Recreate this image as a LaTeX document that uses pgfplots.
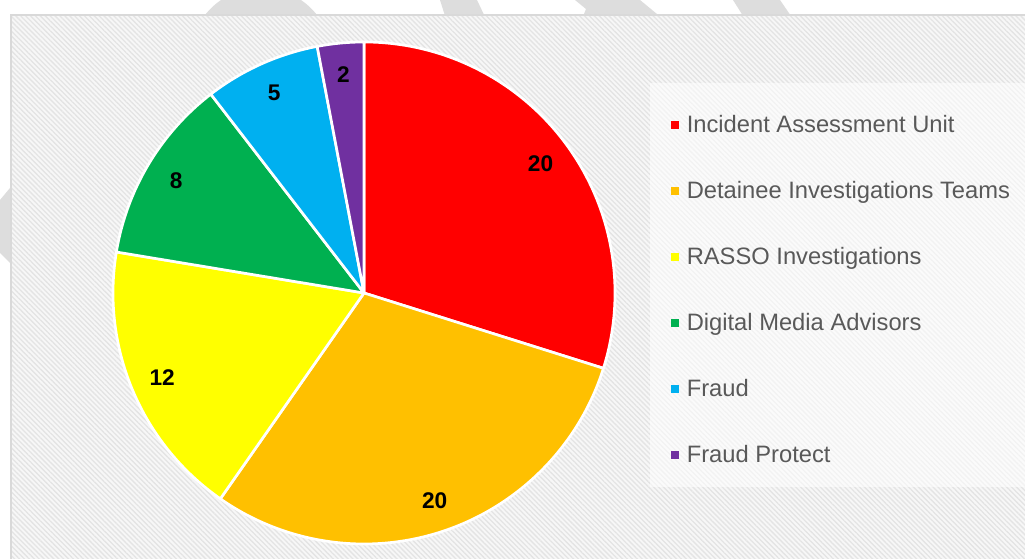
\documentclass[border=0pt]{standalone}
\usepackage{pgfplots}
\pgfplotsset{compat=1.18}
\usepackage{pgfplotstable}
\usepackage{fontspec}
\setmainfont{Liberation Sans}
\usetikzlibrary{patterns.meta}
\definecolor{c0}{HTML}{FF0000}
\definecolor{c1}{HTML}{FFC000}
\definecolor{c2}{HTML}{FFFF00}
\definecolor{c3}{HTML}{00B050}
\definecolor{c4}{HTML}{00B0F0}
\definecolor{c5}{HTML}{7030A0}
\definecolor{legtext}{HTML}{595959}
\definecolor{framec}{HTML}{D9D9D9}
\definecolor{wm}{HTML}{DDDDDD}
\definecolor{bgbase}{HTML}{F7F7F7}
\definecolor{bgline}{HTML}{E4E4E4}

\pgfplotstableread[col sep=comma]{
name,value
Incident Assessment Unit,20
Detainee Investigations Teams,20
RASSO Investigations,12
Digital Media Advisors,8
Fraud,5
Fraud Protect,2
}\piedata

\begin{document}
\begin{tikzpicture}
\gdef\total{0}
\pgfplotsforeachungrouped \i in {0,...,5}{%
  \pgfplotstablegetelem{\i}{value}\of\piedata
  \pgfmathsetmacro{\tmp}{\total+\pgfplotsretval}%
  \xdef\total{\tmp}%
}
\gdef\cum{0}
\pgfplotsforeachungrouped \i in {0,...,5}{%
  \pgfplotstablegetelem{\i}{value}\of\piedata
  \edef\v{\pgfplotsretval}%
  \pgfmathsetmacro{\sa}{90-\cum/\total*360}%
  \pgfmathsetmacro{\tmp}{\cum+\v}%
  \xdef\cum{\tmp}%
  \pgfmathsetmacro{\ea}{90-\cum/\total*360}%
  \pgfmathsetmacro{\ma}{(\sa+\ea)/2}%
  \expandafter\xdef\csname ps\i\endcsname{\sa}%
  \expandafter\xdef\csname pe\i\endcsname{\ea}%
  \expandafter\xdef\csname pm\i\endcsname{\ma}%
  \expandafter\xdef\csname pv\i\endcsname{\v}%
  \pgfplotstablegetelem{\i}{name}\of\piedata
  \expandafter\xdef\csname pn\i\endcsname{\pgfplotsretval}%
}
\begin{axis}[width=768.75pt,height=419.25pt,scale only axis,
  xmin=0,xmax=1025,ymin=0,ymax=559,hide axis,clip=false]
\coordinate (bbSW) at (axis cs:0,0);
\coordinate (bbNE) at (axis cs:1025,559);
\fill[white] (axis cs:0,0) rectangle (axis cs:1025,559);
\begin{scope}
\clip (axis cs:0,0) rectangle (axis cs:1025,559);
\fill[wm] (axis cs:261,500.3) circle[radius=53.25pt];
\fill[wm] (axis cs:440,559) -- (axis cs:477,559) -- (axis cs:486,540) -- (axis cs:446,540) -- cycle;
\fill[wm] (axis cs:575,559) -- (axis cs:640,559) -- (axis cs:663,540) -- (axis cs:582,540) -- (axis cs:586,550) -- cycle;
\fill[wm] (axis cs:733,559) -- (axis cs:780,559) -- (axis cs:793,540) -- (axis cs:745,540) -- cycle;
\fill[wm] (axis cs:0,359) -- (axis cs:10,371) -- (axis cs:10,296) -- (axis cs:0,306) -- cycle;
\end{scope}
\fill[bgbase] (axis cs:10,0) rectangle (axis cs:1025,544);
\fill[pattern={Lines[angle=-45,distance=2.6pt,line width=1.0pt]},pattern color=bgline] (axis cs:10,0) rectangle (axis cs:1025,544);
\fill[white,opacity=0.55] (axis cs:650,72) rectangle (axis cs:1025,476);
\draw[framec,line width=1.5pt] (axis cs:10.5,0) -- (axis cs:10.5,544) -- (axis cs:1025,544);
\pgfplotsinvokeforeach{0,...,5}{
  \fill[c#1,draw=white,line width=2pt,line join=round] (axis cs:364,266) -- ++(\csname ps#1\endcsname:188.25pt)
    arc[start angle=\csname ps#1\endcsname,end angle=\csname pe#1\endcsname,radius=188.25pt] -- cycle;
}
\pgfplotsinvokeforeach{0,...,5}{
  \path (axis cs:364,266) ++(\csname pm#1\endcsname:164.25pt)
    node[font=\bfseries\fontsize{17}{17}\selectfont,text=black] {\csname pv#1\endcsname};
  \fill[c#1] (axis cs:671,{559-121.5-66*#1}) rectangle (axis cs:679,{559-129-66*#1});
  \node[anchor=base west,inner sep=0pt,text=legtext,font=\fontsize{17.8}{17.8}\selectfont]
    at (axis cs:686.5,{559-133-66*#1}) {\csname pn#1\endcsname};
}
\end{axis}
\pgfresetboundingbox
\path (bbSW) rectangle (bbNE);
\end{tikzpicture}
\end{document}
